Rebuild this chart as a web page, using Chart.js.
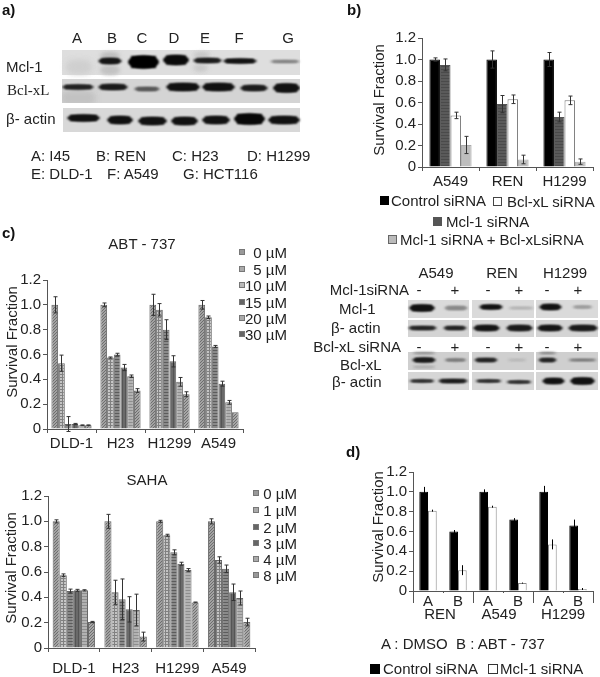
<!DOCTYPE html>
<html>
<head>
<meta charset="utf-8">
<title>Survival fraction panels</title>
<script src="https://cdn.jsdelivr.net/npm/chart.js@4/dist/chart.umd.min.js"></script>
<style>
  html, body { margin: 0; padding: 0; background: #fff; }
  #page { position: relative; width: 600px; height: 677px; overflow: hidden; font-family: "Liberation Sans", Arial, sans-serif; color: #222; filter: blur(0.35px); }
  canvas { position: absolute; }
  .t { position: absolute; white-space: pre; line-height: 1; transform: translateY(-50%); }
  .c { transform: translate(-50%, -50%); }
  .r { transform: translate(-100%, -50%); }
  .v { transform: translate(-50%, -50%) rotate(-90deg); }
  .sw { position: absolute; box-sizing: border-box; }
</style>
</head>
<body>
<div id="page"><canvas id="blots" width="600" height="677" style="left:0;top:0"></canvas></div>
<script>
// panel b
const bCats = ['A549', 'REN', 'H1299'];
const bControl = [1.0, 1.0, 1.0];
const bControlErr = [0.015, 0.08, 0.065];
const bMcl = [0.95, 0.585, 0.465];
const bMclErr = [0.055, 0.08, 0.045];
const bBcl = [0.48, 0.63, 0.62];
const bBclErr = [0.03, 0.04, 0.04];
const bCombo = [0.205, 0.07, 0.05];
const bComboErr = [0.08, 0.04, 0.025];

// panel c, ABT-737
const abtCats = ['DLD-1', 'H23', 'H1299', 'A549'];
const abtDoses = ['0 µM', '5 µM', '10 µM', '15 µM', '20 µM', '30 µM'];
const abt0 = [1.0, 1.0, 1.0, 1.0];
const abt5 = [0.53, 0.575, 0.96, 0.90];
const abt10 = [0.04, 0.60, 0.80, 0.665];
const abt15 = [0.04, 0.495, 0.545, 0.365];
const abt20 = [0.03, 0.425, 0.38, 0.215];
const abt30 = [0.03, 0.31, 0.28, 0.135];
const abt0Err = [0.065, 0.015, 0.085, 0.035];
const abt5Err = [0.065, 0.005, 0.05, 0.01];
const abt10Err = [0.06, 0.01, 0.08, 0.008];
const abt15Err = [0.005, 0.025, 0.045, 0.02];
const abt20Err = [0.003, 0.01, 0.035, 0.015];
const abt30Err = [0.003, 0.015, 0.02, 0];

// panel c, SAHA
const sahaCats = ['DLD-1', 'H23', 'H1299', 'A549'];
const sahaDoses = ['0 µM', '1 µM', '2 µM', '3 µM', '4 µM', '8 µM'];
const saha0 = [1.0, 1.0, 1.0, 1.0];
const saha1 = [0.575, 0.44, 0.89, 0.695];
const saha2 = [0.45, 0.385, 0.755, 0.625];
const saha3 = [0.455, 0.305, 0.665, 0.44];
const saha4 = [0.455, 0.30, 0.615, 0.395];
const saha8 = [0.205, 0.09, 0.36, 0.205];
const saha0Err = [0.012, 0.055, 0.008, 0.02];
const saha1Err = [0.01, 0.095, 0.008, 0.025];
const saha2Err = [0.015, 0.16, 0.02, 0.03];
const saha3Err = [0.008, 0.1, 0.012, 0.065];
const saha4Err = [0.005, 0.125, 0.012, 0.055];
const saha8Err = [0.005, 0.035, 0.003, 0.03];

// panel d
const dCats = ['A', 'B', 'A', 'B', 'A', 'B'];
const dGroups = ['REN', 'A549', 'H1299'];
const dControl = [1.0, 0.60, 1.0, 0.72, 1.0, 0.66];
const dControlErr = [0.05, 0.015, 0.025, 0.015, 0.06, 0.06];
const dMcl = [0.81, 0.21, 0.85, 0.08, 0.47, 0.02];
const dMclErr = [0.01, 0.05, 0.01, 0.005, 0.05, 0.01];

const page = document.getElementById('page');
const INK = '#222';

function makePattern(bg, fg, kind) {
  const c = document.createElement('canvas');
  c.width = c.height = 3;
  const g = c.getContext('2d');
  g.fillStyle = bg;
  g.fillRect(0, 0, 3, 3);
  g.fillStyle = fg;
  if (kind === 'diag') { g.fillRect(2, 0, 1, 1); g.fillRect(1, 1, 1, 1); g.fillRect(0, 2, 1, 1); }
  if (kind === 'horiz') { g.fillRect(0, 1, 3, 1); }
  if (kind === 'vert') { g.fillRect(1, 0, 1, 3); }
  if (kind === 'grid') { g.fillRect(0, 1, 3, 1); g.fillRect(1, 0, 1, 3); }
  return g.createPattern(c, 'repeat');
}

// error bars from the chart's own scales
const errorBars = {
  id: 'errorBars',
  afterDatasetsDraw(chart, args, opts) {
    const { ctx, scales: { y } } = chart;
    ctx.save();
    ctx.strokeStyle = opts.color || '#333';
    ctx.lineWidth = 1;
    chart.data.datasets.forEach((ds, i) => {
      chart.getDatasetMeta(i).data.forEach((bar, j) => {
        const e = ds.errors[j];
        if (!e) return;
        const x = Math.round(bar.x) + 0.5;
        const top = y.getPixelForValue(ds.data[j] + e);
        const bot = y.getPixelForValue(ds.data[j] - e);
        ctx.beginPath();
        ctx.moveTo(x, top); ctx.lineTo(x, bot);
        const cap = opts.cap || 0;
        if (cap) {
          ctx.moveTo(x - cap, top); ctx.lineTo(x + cap, top);
          ctx.moveTo(x - cap, bot); ctx.lineTo(x + cap, bot);
        }
        ctx.stroke();
      });
    });
    ctx.restore();
  }
};

// longer ticks between the three groups of panel d
const groupTicks = {
  id: 'groupTicks',
  afterDraw(chart) {
    const { ctx, scales: { x } } = chart;
    ctx.save();
    ctx.strokeStyle = '#555';
    ctx.lineWidth = 1;
    for (let i = 0; i <= dGroups.length; i++) {
      const px = Math.round(x.left + (x.right - x.left) * i / dGroups.length) + 0.5;
      ctx.beginPath(); ctx.moveTo(px, x.top); ctx.lineTo(px, x.top + 12); ctx.stroke();
    }
    ctx.restore();
  }
};

function barChart(plot, labels, datasets, cfg) {
  const LEFT = 40, TOP = 12, RIGHT = 14, BOTTOM = 28;
  const cv = document.createElement('canvas');
  cv.width = plot.r - plot.l + LEFT + RIGHT;
  cv.height = plot.b - plot.t + TOP + BOTTOM;
  cv.style.left = (plot.l - LEFT) + 'px';
  cv.style.top = (plot.t - TOP) + 'px';
  page.appendChild(cv);
  return new Chart(cv, {
    type: 'bar',
    data: { labels, datasets: datasets.map(ds => ({
      categoryPercentage: cfg.group,
      barPercentage: 1,
      borderWidth: 1,
      borderColor: '#666',
      ...ds
    }))},
    plugins: [errorBars].concat(cfg.plugins || []),
    options: {
      responsive: false,
      animation: false,
      layout: { padding: { top: TOP, right: RIGHT } },
      plugins: {
        legend: { display: false },
        tooltip: { enabled: false },
        errorBars: { cap: cfg.cap, color: cfg.errColor }
      },
      scales: {
        x: {
          afterFit: s => { s.height = BOTTOM; },
          grid: { drawOnChartArea: false, color: '#555', tickLength: cfg.xTick || 4 },
          border: { color: '#555' },
          ticks: { color: INK, font: { family: 'Liberation Sans', size: cfg.xSize || 15 }, padding: cfg.xPad === undefined ? 2 : cfg.xPad, maxRotation: 0, autoSkip: false }
        },
        y: {
          min: 0, max: 1.2,
          afterFit: s => { s.width = LEFT; },
          grid: { drawOnChartArea: false, color: '#555', tickLength: 4 },
          border: { color: '#555' },
          ticks: {
            stepSize: 0.2,
            autoSkip: false,
            color: INK,
            padding: 2,
            font: { family: 'Liberation Sans', size: 15 },
            callback: v => (v === 0 ? '0' : v.toFixed(1))
          }
        }
      }
    }
  });
}

function text(str, x, y, size, cls, extra) {
  const el = document.createElement('div');
  el.className = 't ' + (cls || '');
  el.textContent = str;
  el.style.left = x + 'px';
  el.style.top = y + 'px';
  el.style.fontSize = size + 'px';
  if (extra) Object.assign(el.style, extra);
  page.appendChild(el);
}

function swatch(x, y, w, style) {
  const el = document.createElement('div');
  el.className = 'sw';
  el.style.left = x + 'px';
  el.style.top = (y - w / 2) + 'px';
  el.style.width = el.style.height = w + 'px';
  Object.assign(el.style, style);
  page.appendChild(el);
}

// ---- panel b ----
barChart({ l: 422, t: 38, r: 593, b: 167 }, bCats, [
  { data: bControl, errors: bControlErr, backgroundColor: '#000', borderColor: '#000' },
  { data: bMcl, errors: bMclErr, backgroundColor: makePattern('#5a5a5a', '#4a4a4a', 'horiz'), borderColor: '#555' },
  { data: bBcl, errors: bBclErr, backgroundColor: '#fff', borderColor: '#777' },
  { data: bCombo, errors: bComboErr, backgroundColor: '#bdbdbd', borderColor: '#aaa' }
], { group: 0.74, cap: 2, xPad: 2, xSize: 15 });

// ---- panel c ----
const hatchStyles = [
  { backgroundColor: makePattern('#a2a2a2', '#6e6e6e', 'diag') },
  { backgroundColor: makePattern('#c4c4c4', '#808080', 'grid') },
  { backgroundColor: makePattern('#8a8a8a', '#5c5c5c', 'horiz') },
  { backgroundColor: makePattern('#6a6a6a', '#555555', 'vert') },
  { backgroundColor: makePattern('#b2b2b2', '#8e8e8e', 'horiz') },
  { backgroundColor: makePattern('#a6a6a6', '#6e6e6e', 'diag') }
];
const abtSeries = [abt0, abt5, abt10, abt15, abt20, abt30];
const abtErrs = [abt0Err, abt5Err, abt10Err, abt15Err, abt20Err, abt30Err];
barChart({ l: 47, t: 280, r: 243, b: 429 }, abtCats,
  abtSeries.map((s, i) => ({ data: s, errors: abtErrs[i], ...hatchStyles[i] })),
  { group: 0.82, cap: 2 });

const sahaSeries = [saha0, saha1, saha2, saha3, saha4, saha8];
const sahaErrs = [saha0Err, saha1Err, saha2Err, saha3Err, saha4Err, saha8Err];
barChart({ l: 48, t: 496, r: 255, b: 648 }, sahaCats,
  sahaSeries.map((s, i) => ({ data: s, errors: sahaErrs[i], ...hatchStyles[i] })),
  { group: 0.82, cap: 2, xPad: 8 });

// ---- panel d ----
barChart({ l: 413, t: 472, r: 593, b: 591 }, dCats, [
  { data: dControl, errors: dControlErr, backgroundColor: '#000', borderColor: '#000' },
  { data: dMcl, errors: dMclErr, backgroundColor: '#fff', borderColor: '#888' }
], { group: 0.58, cap: 0, errColor: '#000', plugins: [groupTicks], xPad: 0, xTick: 2 });

// ---- text around the charts ----
[['a)', 2, 9], ['c)', 2, 232], ['b)', 347, 9], ['d)', 346, 451]].forEach(p =>
  text(p[0], p[1], p[2], 15, '', { fontWeight: 'bold', color: '#111' }));

text('Survival Fraction', 378, 100, 15, 'v');
text('Survival Fraction', 11, 342, 15, 'v');
text('Survival Fraction', 10, 568, 15, 'v');
text('Survival Fraction', 377, 527, 15, 'v');

// panel a labels
['A', 'B', 'C', 'D', 'E', 'F', 'G'].forEach((l, i) =>
  text(l, [77, 112, 142, 174, 205, 239, 288][i], 37, 15, 'c'));
text('Mcl-1', 6, 66, 15);
text('Bcl-xL', 7, 90, 15, '', { fontFamily: '"Liberation Serif", serif' });
text('β- actin', 6, 118, 15);
text('A: I45', 31, 155, 15);
text('B: REN', 96, 155, 15);
text('C: H23', 172, 155, 15);
text('D: H1299', 247, 155, 15);
text('E: DLD-1', 31, 173, 15);
text('F: A549', 107, 173, 15);
text('G: HCT116', 183, 173, 15);

// panel b legend
swatch(380, 200, 9, { background: '#000' });
text('Control siRNA', 391, 200, 15);
swatch(493, 201, 9, { background: '#fff', border: '1px solid #444' });
text('Bcl-xL siRNA', 507, 201, 15);
swatch(433, 221, 9, { background: '#555' });
text('Mcl-1 siRNA', 446, 221, 15);
swatch(388, 239, 9, { background: '#bbb', border: '1px solid #666' });
text('Mcl-1 siRNA + Bcl-xLsiRNA', 400, 239, 15);

// blot labels, panel b
text('A549', 436, 272, 15, 'c');
text('REN', 502, 272, 15, 'c');
text('H1299', 565, 272, 15, 'c');
text('Mcl-1siRNA', 409, 289, 15, 'r');
text('Mcl-1', 339, 308, 15);
text('β- actin', 331, 327, 15);
text('Bcl-xL siRNA', 401, 346, 15, 'r');
text('Bcl-xL', 340, 364, 15);
text('β- actin', 332, 381, 15);
[289, 346].forEach(y => {
  ['-', '+', '-', '+', '-', '+'].forEach((s, i) =>
    text(s, [419, 455, 488, 519, 547, 578][i], y, 15, 'c'));
});

// panel c titles and legends
text('ABT - 737', 142, 243, 15, 'c');
[252, 269, 285, 302, 318, 334].forEach((y, i) => {
  swatch(239, y, 6, { background: ['#999', '#aaa', '#bbb', '#666', '#aaa', '#666'][i], border: '1px solid #777' });
  text(abtDoses[i], 287, y, 15, 'r');
});
text('SAHA', 147, 479, 15, 'c');
[493, 510, 527, 543, 559, 575].forEach((y, i) => {
  swatch(253, y, 6, { background: ['#999', '#aaa', '#666', '#666', '#aaa', '#999'][i], border: '1px solid #777' });
  text(sahaDoses[i], 297, y, 15, 'r');
});

// panel d texts
dGroups.forEach((g, i) => text(g, [440, 499, 563][i], 613, 15, 'c'));
text('A : DMSO  B : ABT - 737', 381, 643, 15);
swatch(370, 669, 10, { background: '#000' });
text('Control siRNA', 383, 668, 15);
swatch(488, 669, 10, { background: '#fff', border: '1px solid #333' });
text('Mcl-1 siRNA', 500, 668, 15);

// ---- western blot strips (photographs in the source, painted by hand here) ----
const bg = document.getElementById('blots').getContext('2d');
function strip(x0, x1, y0, y1, shade) {
  bg.filter = 'none';
  bg.fillStyle = shade;
  bg.fillRect(x0, y0, x1 - x0, y1 - y0);
}
function band(x0, x1, yc, h, shade, blur) {
  bg.save();
  bg.filter = 'blur(' + (blur || 1) + 'px)';
  bg.fillStyle = shade;
  bg.beginPath();
  bg.ellipse((x0 + x1) / 2, yc, (x1 - x0) / 2, h / 2, 0, 0, Math.PI * 2);
  bg.fill();
  bg.fillRect(x0 + 3, yc - h / 2 + 0.5, x1 - x0 - 6, h - 1);
  bg.restore();
}
// panel a
strip(62, 300, 50, 75, '#dedede');
band(66, 92, 67, 12, '#cfcfcf', 3);
band(100, 120, 56, 6, '#bdbdbd', 2); band(100, 120, 70, 8, '#c2c2c2', 2);
band(193, 210, 55, 4, '#c4c4c4', 2); band(193, 208, 68, 6, '#cacaca', 2);
[[98, 122, 61, 6, '#151515'], [128, 159, 62, 13, '#000'], [163, 189, 60, 10, '#0a0a0a'],
 [193, 222, 60.5, 5, '#1c1c1c'], [223, 257, 61, 5, '#141414'], [270, 300, 61.5, 2.5, '#777']]
  .forEach(b => band(...b));
strip(62, 300, 79, 103, '#d4d4d4');
bg.save();
bg.beginPath(); bg.rect(62, 79, 238, 24); bg.clip();
band(60, 96, 98, 12, '#c2c2c2', 3);
[[62, 94, 87, 5, '#222'], [98, 128, 87, 6, '#1a1a1a'], [134, 160, 89, 4, '#555'], [166, 200, 87, 8, '#111'],
 [202, 235, 87, 8, '#111'], [240, 268, 88, 6, '#1a1a1a'], [273, 300, 88, 9, '#111']]
  .forEach(b => band(...b));
bg.restore();
strip(63, 300, 108, 132, '#d8d8d8');
[[67, 100, 118, 7, '#111'], [107, 133, 120, 8, '#111'], [138, 167, 121, 8, '#111'], [171, 198, 121, 8, '#111'],
 [202, 230, 120, 8, '#111'], [234, 265, 119, 11, '#080808'], [268, 300, 120, 8, '#111']]
  .forEach(b => band(...b));
// panel b
[[408, 469], [472, 534], [536, 598]].forEach(p => {
  strip(p[0], p[1], 300, 318, '#dadada');
  strip(p[0], p[1], 320, 337, '#d4d4d4');
  strip(p[0], p[1], 352, 370, '#cfcfcf');
  strip(p[0], p[1], 372, 390, '#d6d6d6');
});
[[409, 435, 308, 7, '#111'], [444, 468, 308, 4, '#888'], [479, 503, 307, 5, '#111'], [508, 534, 308, 2, '#aaa'],
 [539, 562, 307, 6, '#111'], [572, 593, 307, 3, '#999'],
 [408, 437, 328, 4, '#222'], [443, 467, 328, 4, '#222'], [473, 500, 328, 6, '#151515'], [506, 533, 328, 6, '#1a1a1a'],
 [537, 563, 328, 6, '#151515'], [568, 598, 328, 6, '#1a1a1a'],
 [412, 436, 353, 1.5, '#777'], [538, 557, 353, 1.5, '#666'], [412, 436, 367, 2, '#aaa'],
 [412, 436, 360, 5, '#1a1a1a'], [444, 467, 360, 3, '#777'], [474, 498, 360, 4, '#222'], [507, 527, 360, 1.5, '#aaa'],
 [538, 557, 360, 4, '#222'], [568, 597, 360, 2, '#666'],
 [409, 435, 381, 3, '#222'], [438, 468, 381, 4, '#1a1a1a'], [475, 502, 381, 3, '#222'], [506, 532, 382, 3, '#222'],
 [542, 565, 381, 6, '#111'], [570, 595, 381, 7, '#111']]
  .forEach(b => band(...b));
</script>
</body>
</html>
